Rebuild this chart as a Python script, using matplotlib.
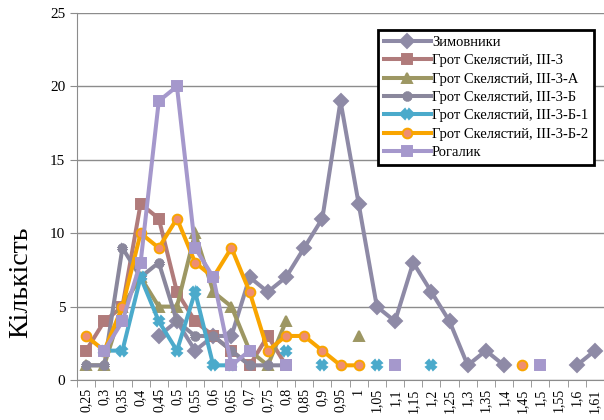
import numpy as np
import matplotlib
matplotlib.use("Agg")
import matplotlib.pyplot as plt

N = None

# size classes (x axis)
sizes = ["0,25", "0,3", "0,35", "0,4", "0,45", "0,5", "0,55", "0,6", "0,65", "0,7",
         "0,75", "0,8", "0,85", "0,9", "0,95", "1", "1,05", "1,1", "1,15", "1,2",
         "1,25", "1,3", "1,35", "1,4", "1,45", "1,5", "1,55", "1,6", "1,61"]

zymovnyky = [N, N, N, N, 3, 4, 2, 3, 3, 7, 6, 7, 9, 11, 19, 12, 5, 4, 8, 6,
             4, 1, 2, 1, N, N, N, 1, 2]
grot_3 = [2, 4, 5, 12, 11, 6, 4, 3, 2, 1, 3, 1, N, N, N, N, N, N, N, N,
          N, N, N, N, N, N, N, N, N]
grot_3a = [1, 1, 5, 7, 5, 5, 10, 6, 5, 2, 1, 4, N, N, N, 3, N, N, N, N,
           N, N, N, N, N, N, N, N, N]
grot_3b = [1, 1, 9, 7, 8, 4, 3, 3, 2, 1, 1, 1, N, N, 1, N, N, N, N, N,
           N, N, N, N, N, N, N, N, N]
grot_3b1 = [N, 2, 2, 7, 4, 2, 6, 1, 1, N, N, 2, N, 1, N, N, 1, N, N, 1,
            N, N, N, N, N, N, N, N, N]
grot_3b2 = [3, 2, 5, 10, 9, 11, 8, 7, 9, 6, 2, 3, 3, 2, 1, 1, N, N, N, N,
            N, N, N, N, 1, N, N, N, N]
rogalyk = [N, 2, 4, 8, 19, 20, 9, 7, 1, 2, N, 1, N, N, N, N, N, 1, N, N,
           N, N, N, N, N, 1, N, N, N]

def arr(v):
    return np.array([np.nan if a is None else a for a in v], dtype=float)

series = [
    ("Зимовники", zymovnyky, "#8E8AA6", "D", "#8E8AA6", "#8E8AA6"),
    ("Грот Скелястий, ІІІ-3", grot_3, "#B07B7B", "s", "#B07B7B", "#B07B7B"),
    ("Грот Скелястий, ІІІ-3-А", grot_3a, "#9D9763", "^", "#9D9763", "#9D9763"),
    ("Грот Скелястий, ІІІ-3-Б", grot_3b, "#8A879C", (6, 2, 0), "#8A879C", "#8A879C"),
    ("Грот Скелястий, ІІІ-3-Б-1", grot_3b1, "#4BAACB", "X", "#4BAACB", "#4BAACB"),
    ("Грот Скелястий, ІІІ-3-Б-2", grot_3b2, "#F9A500", "o", "#EE8E72", "#F9A500"),
    ("Рогалик", rogalyk, "#A598CC", "s", "#A598CC", "#A598CC"),
]

plt.rcParams['font.family'] = ['Liberation Serif', 'DejaVu Serif']

fig = plt.figure(figsize=(6.04, 4.2), dpi=100)
ax = fig.add_axes([77 / 604, 40 / 420, 1 - 77 / 604, 367 / 420])

x = np.arange(len(sizes))
for name, vals, col, mk, fc, ec in series:
    mew = 2.8 if mk == (6, 2, 0) else 1.4
    ax.plot(x, arr(vals), color=col, lw=2.9, marker=mk, ms=7,
            markerfacecolor=fc, markeredgecolor=ec, markeredgewidth=mew,
            label=name, solid_joinstyle='miter')

ax.set_xlim(-0.5, len(sizes) - 0.5)
ax.set_ylim(0, 25)
ax.set_yticks([0, 5, 10, 15, 20, 25])
ax.yaxis.grid(True, color="#8C8C8C", lw=1)
ax.set_axisbelow(True)

ax.set_xticks(x)
ax.set_xticklabels(sizes, rotation=90, fontsize=10)
ax.set_xticks(np.arange(-0.5, len(sizes), 1), minor=True)
ax.tick_params(axis='x', which='major', length=0, pad=6)
ax.tick_params(axis='x', which='minor', length=5, color="#8C8C8C")
ax.tick_params(axis='y', length=5, color="#8C8C8C", labelsize=11)

for s in ["top", "right"]:
    ax.spines[s].set_visible(False)
for s in ["left", "bottom"]:
    ax.spines[s].set_color("#8C8C8C")

ax.set_ylabel("Кількість", fontsize=20)
ax.yaxis.set_label_coords(-0.083, 0.265)

leg = ax.legend(loc="upper left", bbox_to_anchor=(378 / 604, 1 - 30 / 420),
                bbox_transform=fig.transFigure, fontsize=10.5, handlelength=3.2,
                handletextpad=0.1, labelspacing=0.35, borderpad=0.4,
                borderaxespad=0, fancybox=False, framealpha=1)
leg.get_frame().set_edgecolor("black")
leg.get_frame().set_linewidth(2)

fig.savefig("out.png", dpi=100)
